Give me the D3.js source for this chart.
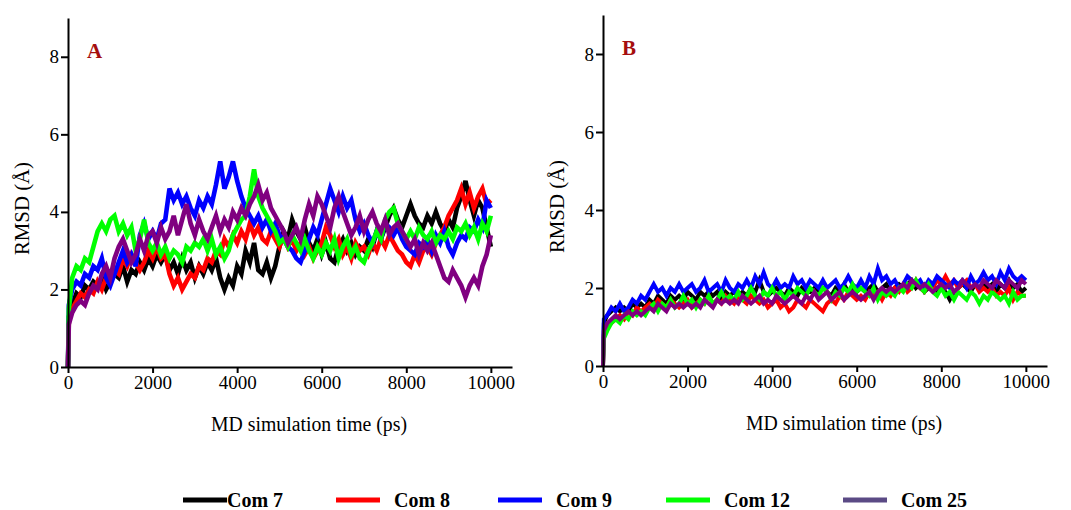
<!DOCTYPE html>
<html>
<head>
<meta charset="utf-8">
<script src="https://cdn.jsdelivr.net/npm/d3@7"></script>
<style>
  body { margin: 0; background: #fff; }
  svg { display: block; }
  .domain, .tick line { stroke: #000; stroke-width: 2px; }
</style>
</head>
<body>
<div id="chart"></div>
<script>
(function () {
  // ---- data ----
  const seriesNames = ["Com 7", "Com 8", "Com 9", "Com 12", "Com 25"];
  const seriesColors = ["#000000", "#ff0000", "#0000ff", "#00ff00", "#800080"];
  const legendColors = ["#000000", "#ff0000", "#0000ff", "#00ff00", "#5b4a85"];
  const xTicks = [0, 2000, 4000, 6000, 8000, 10000];
  const yTicks = [0, 2, 4, 6, 8];
  // time in ps: start, first frame, then every 100 ps
  const time = [0, 20].concat(d3.range(100, 10001, 100));

  // Panel A RMSD (Å)
  const com7A = [0, 1.3,
    1.6,1.9,1.8,2.1,2.0,2.2,2.1,2.3,2.0,2.2,
    2.4,2.3,2.6,2.2,2.5,2.4,2.7,2.5,2.8,2.6,
    2.9,2.7,2.9,2.5,2.7,2.4,2.8,2.5,2.7,2.3,
    2.6,2.4,2.7,2.5,2.8,2.3,2.0,2.3,2.1,2.6,
    2.4,3.0,2.7,3.2,2.5,2.4,2.7,2.3,2.6,3.1,
    3.5,3.3,3.8,3.5,3.3,3.6,3.2,3.0,3.3,2.9,
    3.2,2.8,2.7,3.1,3.3,3.0,3.2,2.9,3.1,3.0,
    3.3,3.1,3.5,3.3,3.6,3.9,4.1,3.8,3.6,3.9,
    4.2,3.9,3.7,3.6,3.9,3.7,4.0,3.7,3.5,3.8,
    3.6,4.1,4.4,4.8,4.3,3.9,4.3,4.1,3.6,3.1];
  const com8A = [0, 1.2,
    1.5,1.7,1.9,1.8,2.0,1.9,2.2,2.0,2.3,2.2,
    2.5,2.4,2.8,2.6,2.9,2.7,2.5,2.7,3.0,2.8,
    3.1,2.8,2.9,2.4,2.1,2.3,2.0,2.2,2.4,2.3,
    2.6,2.5,2.8,2.7,3.0,2.9,3.3,3.1,3.4,3.2,
    3.5,3.3,3.7,3.4,3.6,3.3,3.2,3.5,3.3,3.1,
    3.4,3.1,3.3,3.0,3.2,2.9,3.1,2.8,3.0,3.2,
    3.6,3.4,3.1,3.3,2.9,3.1,2.8,3.2,3.0,3.1,
    2.9,3.2,3.0,3.3,3.1,3.4,3.2,3.0,2.9,2.7,
    2.6,2.9,2.7,3.0,3.1,2.9,3.2,3.4,3.6,3.9,
    4.1,4.3,4.6,4.2,4.5,4.1,4.4,4.6,4.2,4.3];
  const com9A = [0, 1.6,
    2.0,2.2,2.1,2.4,2.3,2.6,2.5,2.8,2.3,2.1,
    2.4,2.7,3.0,2.7,2.9,2.6,3.4,3.7,3.3,3.5,
    3.3,3.7,3.8,4.6,4.3,4.5,4.2,4.4,4.1,3.9,
    4.3,4.1,4.4,4.2,4.7,5.3,4.6,4.9,5.3,4.8,
    4.4,4.1,3.9,3.7,3.9,3.6,3.8,3.5,3.7,3.4,
    3.3,3.1,3.0,2.8,2.7,3.0,3.3,3.6,3.4,3.8,
    4.2,4.6,4.3,4.0,4.4,4.1,4.3,3.8,3.5,3.7,
    3.4,3.2,3.5,3.3,3.7,3.6,3.4,3.6,3.3,3.1,
    3.0,2.9,3.2,3.1,3.3,3.0,3.4,3.2,3.5,3.1,
    2.9,3.2,3.4,3.3,3.6,3.5,3.8,3.6,4.3,4.1];
  const com12A = [0, 1.5,
    2.3,2.6,2.5,2.8,2.7,3.1,3.5,3.7,3.5,3.8,
    3.9,3.5,3.7,3.4,3.6,3.0,3.3,3.8,3.2,3.0,
    3.2,2.9,3.1,2.8,3.0,2.9,2.7,3.1,3.0,3.2,
    3.1,3.3,3.0,3.3,2.9,3.1,2.8,3.0,3.4,3.6,
    3.8,3.9,4.4,5.1,4.4,4.1,3.9,3.7,3.5,3.2,
    3.3,3.1,3.4,3.2,3.0,3.3,3.0,2.8,3.1,2.9,
    3.2,3.0,3.3,2.8,3.1,3.3,2.9,3.1,2.8,2.7,
    3.0,3.2,3.5,3.3,3.8,4.0,4.1,3.7,3.5,3.3,
    3.5,3.3,3.6,3.4,3.3,3.5,3.2,3.4,3.3,3.5,
    3.3,3.6,3.5,3.7,3.4,3.6,3.3,3.7,3.5,3.9];
  const com25A = [0, 1.1,
    1.4,1.6,1.7,1.6,1.9,2.1,2.0,2.4,2.6,2.3,
    2.8,3.1,3.3,3.0,2.7,2.9,3.3,3.0,3.4,3.5,
    3.2,3.6,3.3,3.5,3.9,3.4,3.8,4.2,3.7,3.4,
    3.8,3.5,3.3,3.6,3.9,3.5,3.8,3.6,4.0,3.8,
    4.1,3.9,4.2,4.4,4.7,4.3,4.5,4.1,3.9,3.7,
    3.5,3.2,3.4,3.6,3.3,3.8,4.2,3.9,4.4,4.2,
    3.9,3.6,4.1,4.4,4.0,3.7,3.4,3.6,3.9,3.5,
    3.8,4.0,3.7,3.5,3.8,3.4,3.6,3.7,3.5,3.3,
    3.1,3.3,2.9,3.2,3.0,3.2,2.9,2.6,2.3,2.2,
    2.5,2.3,2.1,1.8,2.1,2.3,2.1,2.6,2.9,3.4];

  // Panel B RMSD (Å)
  const com7B = [0, 1.1,
    1.3,1.4,1.5,1.4,1.5,1.4,1.6,1.5,1.6,1.5,
    1.7,1.6,1.8,1.7,1.6,1.8,1.7,1.8,1.7,1.9,
    1.8,1.7,1.9,1.8,1.9,1.8,1.9,1.7,1.9,1.8,
    1.9,1.8,1.9,1.8,2.0,1.9,2.2,1.9,1.8,1.9,
    2.0,1.9,1.8,2.0,1.9,1.8,2.0,1.9,1.9,2.0,
    1.9,2.0,1.9,1.8,2.0,1.9,2.1,1.9,2.0,1.9,
    2.0,1.9,2.0,2.1,1.9,2.0,2.1,1.9,2.0,2.1,
    2.0,2.1,2.2,2.0,2.1,1.9,2.0,2.1,1.9,2.0,
    1.9,1.7,1.9,2.0,2.1,2.0,1.9,2.1,2.0,2.1,
    2.0,2.1,1.9,2.1,2.0,2.2,2.0,2.1,1.9,2.0];
  const com8B = [0, 0.8,
    1.0,1.1,1.2,1.3,1.2,1.4,1.3,1.5,1.4,1.5,
    1.6,1.5,1.7,1.6,1.5,1.7,1.6,1.5,1.6,1.7,
    1.5,1.6,1.7,1.6,1.8,1.6,1.7,1.6,1.8,1.7,
    1.6,1.8,1.7,1.6,1.8,1.7,1.6,1.7,1.5,1.6,
    1.7,1.5,1.6,1.4,1.5,1.7,1.6,1.5,1.7,1.6,
    1.5,1.4,1.6,1.7,1.6,1.8,1.7,1.9,1.8,1.7,
    1.8,1.7,1.9,1.8,1.9,1.7,1.9,1.8,2.0,1.9,
    2.1,1.9,2.0,2.2,2.0,1.9,2.1,2.0,2.2,2.1,
    2.3,2.1,2.2,2.0,2.1,2.2,2.0,2.1,1.9,2.0,
    1.9,2.0,1.8,1.9,1.8,2.0,1.7,1.9,1.8,1.8];
  const com9B = [0, 1.2,
    1.3,1.5,1.4,1.6,1.4,1.5,1.7,1.6,1.8,1.7,
    1.9,2.1,1.9,2.0,1.8,2.0,1.9,2.1,1.9,2.0,
    2.1,1.9,2.0,2.2,1.9,2.0,2.1,1.9,2.2,2.0,
    1.9,2.1,2.0,2.2,2.0,2.3,2.1,2.4,2.1,2.0,
    2.2,2.0,2.1,2.0,2.3,2.1,2.2,2.0,2.2,2.1,
    2.0,2.2,2.0,2.1,2.2,2.0,2.1,2.3,2.1,2.0,
    2.2,2.0,2.3,2.1,2.5,2.2,2.3,2.1,2.2,2.0,
    2.1,2.3,2.2,2.1,2.2,2.0,2.2,2.1,2.3,2.2,
    2.1,2.0,2.2,2.1,2.2,2.0,2.3,2.1,2.2,2.4,
    2.2,2.3,2.1,2.4,2.2,2.5,2.3,2.2,2.3,2.2];
  const com12B = [0, 0.7,
    0.9,1.1,1.2,1.1,1.3,1.2,1.4,1.3,1.4,1.3,
    1.5,1.6,1.4,1.6,1.5,1.7,1.5,1.6,1.8,1.6,
    1.7,1.5,1.7,1.6,1.8,1.6,1.7,1.9,1.7,1.8,
    1.7,1.9,1.7,1.8,2.0,1.8,1.7,1.9,1.8,2.0,
    1.8,1.9,1.7,1.9,1.8,2.0,1.9,1.8,2.0,1.9,
    1.8,2.0,1.9,1.7,1.9,1.8,2.0,1.9,2.1,1.9,
    2.0,1.9,1.8,2.0,1.7,1.9,1.8,1.9,1.8,2.0,
    1.9,2.1,2.0,2.2,2.0,1.9,2.1,1.9,1.8,2.0,
    1.8,1.9,1.7,1.9,1.8,1.7,1.9,1.8,1.6,1.8,
    1.7,1.9,1.8,1.7,1.8,1.6,1.9,1.7,1.8,1.8];
  const com25B = [0, 0.9,
    1.1,1.2,1.3,1.2,1.3,1.4,1.3,1.4,1.3,1.4,
    1.5,1.4,1.6,1.5,1.4,1.6,1.5,1.6,1.5,1.6,
    1.5,1.6,1.5,1.7,1.6,1.5,1.7,1.6,1.7,1.6,
    1.7,1.6,1.8,1.7,1.6,1.7,1.8,1.6,1.7,1.6,
    1.8,1.7,1.6,1.7,1.8,1.7,1.6,1.8,1.7,1.9,
    1.7,1.8,1.9,1.7,1.8,1.9,1.7,1.8,1.9,1.8,
    1.7,1.8,1.9,1.7,1.9,2.0,1.9,2.0,1.9,2.0,
    2.1,2.0,2.2,2.1,2.0,2.1,2.0,1.9,2.0,2.1,
    2.0,2.1,1.9,2.0,2.2,2.1,2.0,2.1,2.0,2.2,
    2.1,2.0,2.2,2.1,2.0,2.2,2.1,2.0,2.2,2.1];

  const panelA = [com7A, com8A, com9A, com12A, com25A];
  const panelB = [com7B, com8B, com9B, com12B, com25B];

  // ---- layout ----
  const W = 1071, H = 510;
  const svg = d3.select("#chart").append("svg")
    .attr("width", W)
    .attr("height", H);

  const serif = "Liberation Serif";

  function drawPanel(series, opt) {
    const x = d3.scaleLinear().domain([0, 10500]).range([opt.x0, opt.x1]);
    const y = d3.scaleLinear().domain([0, 9]).range([opt.y0, opt.y1]);

    const line = d3.line()
      .x((d, i) => x(time[i]))
      .y(d => y(d));

    series.forEach((s, k) => {
      svg.append("path")
        .datum(s)
        .attr("fill", "none")
        .attr("stroke", seriesColors[k])
        .attr("stroke-width", opt.lw)
        .attr("stroke-linejoin", "miter")
        .attr("d", line);
    });

    // axes
    svg.append("g")
      .attr("transform", `translate(0,${opt.y0})`)
      .call(d3.axisBottom(x).tickValues(xTicks).tickSize(6).tickPadding(3).tickSizeOuter(0).tickFormat(d3.format("d")))
      .attr("font-family", serif)
      .attr("font-size", 19);

    svg.append("g")
      .attr("transform", `translate(${opt.x0},0)`)
      .call(d3.axisLeft(y).tickValues(yTicks).tickSize(7).tickPadding(2).tickSizeOuter(0))
      .attr("font-family", serif)
      .attr("font-size", 19);

    // axis titles
    svg.append("text")
      .attr("x", opt.x0 + 241)
      .attr("y", opt.y0 + 64)
      .attr("text-anchor", "middle")
      .attr("textLength", 196)
      .attr("lengthAdjust", "spacingAndGlyphs")
      .attr("font-family", serif)
      .attr("font-size", 20)
      .text("MD simulation time (ps)");

    svg.append("text")
      .attr("transform", `translate(${opt.x0 - 39},${(opt.y0 + opt.y1) / 2 + 16}) rotate(-90)`)
      .attr("text-anchor", "middle")
      .attr("textLength", 93)
      .attr("lengthAdjust", "spacingAndGlyphs")
      .attr("font-family", serif)
      .attr("font-size", 20)
      .text("RMSD (Å)");

    // panel letter
    svg.append("text")
      .attr("x", opt.x0 + 19)
      .attr("y", opt.y1 + 40)
      .attr("font-family", serif)
      .attr("font-size", 21)
      .attr("font-weight", "bold")
      .attr("fill", "#a50e0e")
      .text(opt.label);
  }

  drawPanel(panelA, { x0: 68, x1: 512, y0: 367, y1: 18, label: "A", lw: 4.6 });
  drawPanel(panelB, { x0: 603, x1: 1047, y0: 366, y1: 15, label: "B", lw: 4 });

  // ---- legend ----
  const legendX = [183, 336, 498, 666, 843];
  const legend = svg.append("g").attr("transform", "translate(0,500)");
  seriesNames.forEach((name, k) => {
    legend.append("line")
      .attr("x1", legendX[k]).attr("x2", legendX[k] + 44)
      .attr("y1", 0).attr("y2", 0)
      .attr("stroke", legendColors[k])
      .attr("stroke-width", 5);
    legend.append("text")
      .attr("x", legendX[k] + (k === 0 ? 44 : 58))
      .attr("y", 7)
      .attr("font-family", serif)
      .attr("font-size", 20)
      .attr("font-weight", "bold")
      .text(name);
  });
})();
</script>
</body>
</html>
